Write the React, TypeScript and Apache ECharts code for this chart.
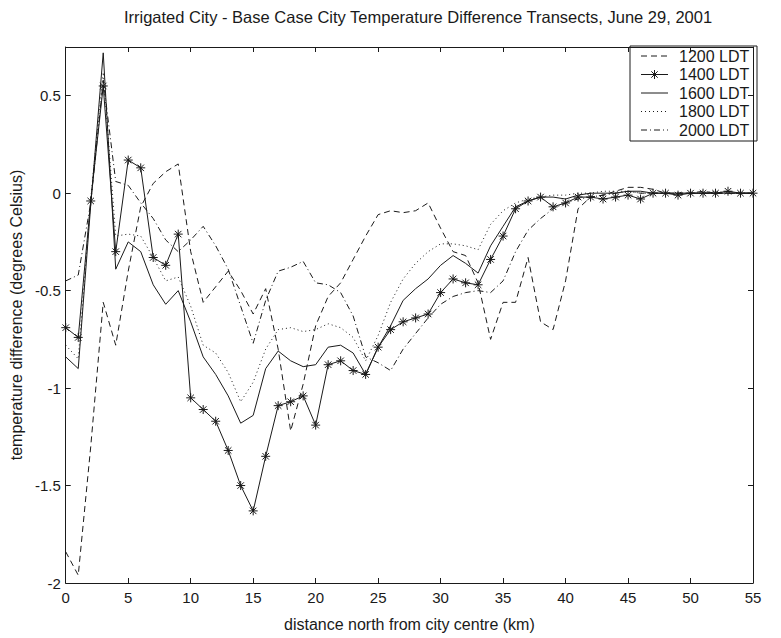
import React, { useEffect, useRef } from "react";
import * as echarts from "echarts";

const titleText = "Irrigated City - Base Case City Temperature Difference Transects, June 29, 2001";
const xAxisTitle = "distance north from city centre (km)";
const yAxisTitle = "temperature difference (degrees Celsius)";

const distanceKm = [
  0, 1, 2, 3, 4, 5, 6, 7, 8, 9, 10, 11, 12, 13, 14, 15, 16, 17, 18, 19,
  20, 21, 22, 23, 24, 25, 26, 27, 28, 29, 30, 31, 32, 33, 34, 35, 36, 37, 38, 39,
  40, 41, 42, 43, 44, 45, 46, 47, 48, 49, 50, 51, 52, 53, 54, 55,
];

const seriesNames = ["1200 LDT", "1400 LDT", "1600 LDT", "1800 LDT", "2000 LDT"];

const ldt1200 = [
  -1.84, -1.96, -1.3, -0.56, -0.78, -0.4, -0.07, 0.05, 0.11, 0.15,
  -0.3, -0.56, -0.48, -0.4, -0.5, -0.62, -0.49, -0.8, -1.22, -0.98,
  -0.68, -0.53, -0.46, -0.34, -0.22, -0.11, -0.09, -0.1, -0.09, -0.05,
  -0.18, -0.3, -0.32, -0.46, -0.75, -0.56, -0.56, -0.33, -0.66, -0.7,
  -0.45, -0.08, -0.02, -0.01, 0.01, 0.03, 0.03, 0.02, 0.0, 0.0,
  0.0, 0.01, 0.0, 0.0, 0.0, 0.0,
];

const ldt1400 = [
  -0.69, -0.74, -0.04, 0.55, -0.3, 0.17, 0.13, -0.33, -0.37, -0.21,
  -1.05, -1.11, -1.17, -1.32, -1.5, -1.63, -1.35, -1.09, -1.07, -1.04,
  -1.19, -0.88, -0.86, -0.91, -0.93, -0.79, -0.7, -0.66, -0.64, -0.62,
  -0.51, -0.44, -0.46, -0.47, -0.34, -0.22, -0.08, -0.04, -0.02, -0.07,
  -0.05, -0.02, -0.02, -0.03, -0.02, -0.01, -0.03, 0.0, 0.0, -0.01,
  0.0, 0.0, 0.0, 0.01, 0.0, 0.0,
];

const ldt1600 = [
  -0.84, -0.9, -0.06, 0.72, -0.39, -0.25, -0.3, -0.47, -0.57, -0.5,
  -0.66, -0.84, -0.93, -1.04, -1.18, -1.14, -0.9, -0.81, -0.86, -0.89,
  -0.88, -0.79, -0.78, -0.82, -0.93, -0.79, -0.68, -0.55, -0.49, -0.44,
  -0.37, -0.32, -0.36, -0.41, -0.27, -0.17, -0.07, -0.04, -0.02, -0.02,
  -0.03, -0.01, 0.0, 0.0, 0.0, 0.01, 0.01, 0.0, 0.0, 0.0,
  0.0, 0.0, 0.0, 0.0, 0.0, 0.0,
];

const ldt1800 = [
  -0.78, -0.85, -0.03, 0.62, -0.22, -0.21, -0.22, -0.33, -0.45, -0.43,
  -0.58, -0.78, -0.82, -0.92, -1.07, -0.97, -0.8, -0.7, -0.69, -0.71,
  -0.7, -0.67, -0.69, -0.74, -0.86, -0.73, -0.56, -0.44, -0.36, -0.3,
  -0.26, -0.26, -0.27, -0.29, -0.16, -0.09, -0.05, -0.03, -0.02, -0.01,
  -0.01, 0.0, 0.0, 0.01, 0.01, 0.01, 0.0, 0.0, 0.0, 0.0,
  0.0, 0.0, 0.01, 0.0, 0.0, 0.0,
];

const ldt2000 = [
  -0.45, -0.42, -0.05, 0.58, 0.06, 0.04, -0.05, -0.13, -0.24, -0.3,
  -0.24, -0.17, -0.27, -0.39, -0.58, -0.77, -0.55, -0.4, -0.38, -0.35,
  -0.46, -0.47, -0.51, -0.63, -0.84, -0.87, -0.91, -0.8, -0.72, -0.64,
  -0.57, -0.53, -0.51, -0.5, -0.51, -0.45, -0.3, -0.19, -0.13, -0.08,
  -0.05, -0.03, -0.02, -0.01, 0.0, 0.01, 0.0, 0.0, 0.0, 0.0,
  0.0, 0.0, 0.0, 0.0, 0.0, 0.0,
];

const xTicks = { min: 0, max: 55, interval: 5 };
const yTicks = { min: -2, max: 0.75, interval: 0.5 };

const FONT = "'Liberation Sans', Arial, sans-serif";
const INK = "#1a1a1a";
const STAR = "path://M0,-5L0,5M-5,0L5,0M-3.6,-3.6L3.6,3.6M-3.6,3.6L3.6,-3.6";

const dashStyles: any[] = [[6, 4], "solid", "solid", [1, 3], [6, 3, 1, 3]];

function pairs(values: number[]) {
  return distanceKm.map((d, i) => [d, values[i]]);
}

function buildLegend() {
  const boxX = 630;
  const boxY = 46;
  const boxW = 127;
  const boxH = 95;
  const rowY0 = 56;
  const rowStep = 18.5;
  const children: any[] = [
    {
      type: "rect",
      shape: { x: boxX, y: boxY, width: boxW, height: boxH },
      style: { fill: "#ffffff", stroke: INK, lineWidth: 1 },
    },
  ];
  seriesNames.forEach((name, i) => {
    const y = rowY0 + i * rowStep;
    const dash = dashStyles[i];
    children.push({
      type: "line",
      shape: { x1: 641, y1: y, x2: 668, y2: y },
      style: {
        stroke: INK,
        lineWidth: 1,
        lineDash: Array.isArray(dash) ? dash : null,
      },
    });
    if (i === 1) {
      const cx = 654.5;
      const r = 4.5;
      const d = 3.2;
      [
        [cx, y - r, cx, y + r],
        [cx - r, y, cx + r, y],
        [cx - d, y - d, cx + d, y + d],
        [cx - d, y + d, cx + d, y - d],
      ].forEach(([x1, y1, x2, y2]) =>
        children.push({
          type: "line",
          shape: { x1, y1, x2, y2 },
          style: { stroke: INK, lineWidth: 1 },
        })
      );
    }
    children.push({
      type: "text",
      x: 679,
      y,
      style: {
        text: name,
        fill: INK,
        font: `16px ${FONT}`,
        verticalAlign: "middle",
        align: "left",
      },
    });
  });
  return [{ type: "group", z: 100, children }];
}

export default function App() {
  const ref = useRef<HTMLDivElement>(null);

  useEffect(() => {
    if (!ref.current) return;
    const chart = echarts.init(ref.current, undefined, { renderer: "svg" });

    const axisBase = {
      axisLine: { show: true, onZero: false, lineStyle: { color: INK, width: 1 } },
      axisTick: { show: true, inside: true, length: 5, lineStyle: { color: INK, width: 1 } },
      splitLine: { show: false },
    };

    const lineSeries = (i: number, values: number[], extra: any = {}) => ({
      name: seriesNames[i],
      type: "line",
      data: pairs(values),
      symbol: "none",
      lineStyle: { color: INK, width: 1, type: dashStyles[i] },
      itemStyle: { color: INK },
      emphasis: { disabled: true },
      z: 3,
      ...extra,
    });

    chart.setOption({
      animation: false,
      backgroundColor: "#ffffff",
      title: {
        text: titleText,
        left: 413,
        top: 3,
        textAlign: "center",
        textStyle: { fontFamily: FONT, fontSize: 16.5, fontWeight: "normal", color: INK },
      },
      grid: { left: 62, right: 28, top: 47, bottom: 55 },
      xAxis: [
        {
          type: "value",
          ...xTicks,
          position: "bottom",
          ...axisBase,
          name: xAxisTitle,
          nameLocation: "middle",
          nameGap: 33,
          nameTextStyle: { fontFamily: FONT, fontSize: 16, color: INK },
          axisLabel: { fontFamily: FONT, fontSize: 15, color: INK, margin: 7 },
        },
        {
          type: "value",
          ...xTicks,
          position: "top",
          ...axisBase,
          axisLabel: { show: false },
        },
      ],
      yAxis: [
        {
          type: "value",
          ...yTicks,
          position: "left",
          ...axisBase,
          name: yAxisTitle,
          nameLocation: "middle",
          nameGap: 36,
          nameTextStyle: { fontFamily: FONT, fontSize: 16, color: INK },
          axisLabel: {
            fontFamily: FONT,
            fontSize: 15,
            color: INK,
            margin: 5,
            showMaxLabel: false,
            formatter: (v: number) => String(v),
          },
        },
        {
          type: "value",
          ...yTicks,
          position: "right",
          ...axisBase,
          axisLabel: { show: false },
        },
      ],
      graphic: buildLegend(),
      series: [
        lineSeries(0, ldt1200),
        lineSeries(1, ldt1400, {
          symbol: STAR,
          symbolSize: 9,
          symbolKeepAspect: true,
          showSymbol: true,
          itemStyle: { color: "transparent", borderColor: INK, borderWidth: 1 },
        }),
        lineSeries(2, ldt1600),
        lineSeries(3, ldt1800),
        lineSeries(4, ldt2000),
      ],
    });

    return () => chart.dispose();
  }, []);

  return (
    <div
      ref={ref}
      style={{ position: "absolute", left: 0, top: 0, width: 781, height: 638 }}
    />
  );
}
